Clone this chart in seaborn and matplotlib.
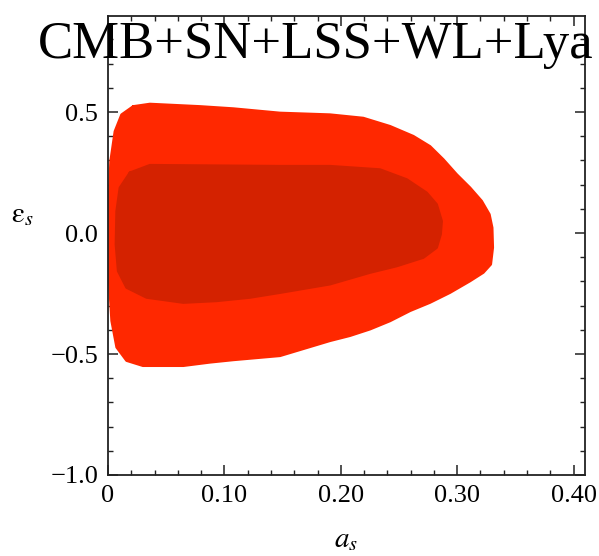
import matplotlib
matplotlib.use("Agg")
import matplotlib.pyplot as plt
from matplotlib.ticker import MultipleLocator, FixedLocator, FixedFormatter
import seaborn as sns
import pandas as pd

# 95% (outer) credible region boundary in the (a_s, eps_s) plane
outer_as = [0.0217, 0.036, 0.079, 0.1077, 0.1478, 0.1907, 0.2193, 0.2423,
            0.2623, 0.2766, 0.288, 0.2995, 0.311, 0.321, 0.3276, 0.330, 0.3305,
            0.3288, 0.3224, 0.311, 0.2938, 0.2766, 0.2595, 0.2423, 0.2251,
            0.2079, 0.1907, 0.1478, 0.1077, 0.0876, 0.0647, 0.030, 0.016,
            0.0075, 0.0032, 0.0011, 0.0003, 0.0011, 0.0023, 0.006, 0.0117]
outer_eps = [0.523, 0.533, 0.523, 0.514, 0.496, 0.489, 0.475, 0.441,
             0.400, 0.358, 0.304, 0.242, 0.187, 0.132, 0.077, 0.022, -0.060,
             -0.129, -0.163, -0.198, -0.246, -0.287, -0.321, -0.363, -0.397,
             -0.424, -0.445, -0.507, -0.524, -0.534, -0.548, -0.548, -0.527,
             -0.472, -0.363, -0.198, -0.005, 0.159, 0.297, 0.420, 0.489]

# 68% (inner) credible region boundary
inner_as = [0.0189, 0.036, 0.1478, 0.1907, 0.2337, 0.2566, 0.2737, 0.2823,
            0.2866, 0.2857, 0.2823, 0.2709, 0.248, 0.2251, 0.1907, 0.1478,
            0.122, 0.0934, 0.0647, 0.0332, 0.016, 0.0088, 0.0069, 0.0075,
            0.0103]
inner_eps = [0.249, 0.280, 0.276, 0.276, 0.262, 0.221, 0.166, 0.118,
             0.049, -0.005, -0.060, -0.101, -0.136, -0.163, -0.211, -0.246,
             -0.266, -0.280, -0.287, -0.266, -0.225, -0.157, -0.047, 0.091,
             0.187]

x_ticks = [0.0, 0.10, 0.20, 0.30, 0.40]
x_tick_labels = ["0", "0.10", "0.20", "0.30", "0.40"]
y_ticks = [-1.0, -0.5, 0.0, 0.5]
y_tick_labels = ["\u22121.0", "\u22120.5", "0.0", "0.5"]

title = "CMB+SN+LSS+WL+Lya"

sns.set_style("ticks")
plt.rcParams["font.family"] = ["Liberation Serif", "DejaVu Serif"]
plt.rcParams["mathtext.fontset"] = "stix"
for key in ["text.color", "axes.labelcolor", "xtick.color", "ytick.color",
            "axes.edgecolor"]:
    plt.rcParams[key] = "black"

OUTER_COLOR = "#ff2800"
INNER_COLOR = "#d42200"

fig = plt.figure(figsize=(5.99, 5.56), dpi=100)
ax = fig.add_axes([0.1803, 0.1457, 0.7957, 0.8255])


def closed(xs, ys):
    return pd.DataFrame({"a_s": xs + xs[:1], "eps_s": ys + ys[:1]})


for xs, ys, color in [(outer_as, outer_eps, OUTER_COLOR),
                      (inner_as, inner_eps, INNER_COLOR)]:
    df = closed(xs, ys)
    ax.fill(df["a_s"], df["eps_s"], color=color, lw=0, zorder=2)
    sns.lineplot(data=df, x="a_s", y="eps_s", sort=False, estimator=None,
                 color=color, lw=2.0, ax=ax, zorder=3,
                 solid_joinstyle="round")

ax.set_xlim(0.0, 0.4095)
ax.set_ylim(-1.0, 0.897)

ax.xaxis.set_major_locator(FixedLocator(x_ticks))
ax.xaxis.set_major_formatter(FixedFormatter(x_tick_labels))
ax.xaxis.set_minor_locator(MultipleLocator(0.02))
ax.yaxis.set_major_locator(FixedLocator(y_ticks))
ax.yaxis.set_major_formatter(FixedFormatter(y_tick_labels))
ax.yaxis.set_minor_locator(MultipleLocator(0.1))

ax.tick_params(which="both", direction="in", top=True, right=True,
               color="#222222")
ax.tick_params(which="major", length=7, width=1.1, labelsize=19, pad=7)
ax.tick_params(which="minor", length=3.5, width=1.0)
for s in ax.spines.values():
    s.set_linewidth(1.3)
    s.set_color("#222222")
    s.set_zorder(5)

ax.set_xlabel(r"$a_s$", fontsize=21)
ax.xaxis.set_label_coords(0.5, -0.142)
ax.xaxis.label.set_va("center")
ax.set_ylabel(r"$\mathrm{\varepsilon}_s$", fontsize=21, rotation=0)
ax.yaxis.set_label_coords(-0.18, 0.566)
ax.yaxis.label.set_va("center")
ax.yaxis.label.set_ha("center")

fig.text(316 / 599, 1 - 45 / 556, title, ha="center", va="center",
         fontsize=38, zorder=10)

fig.savefig("out.png", dpi=100)
